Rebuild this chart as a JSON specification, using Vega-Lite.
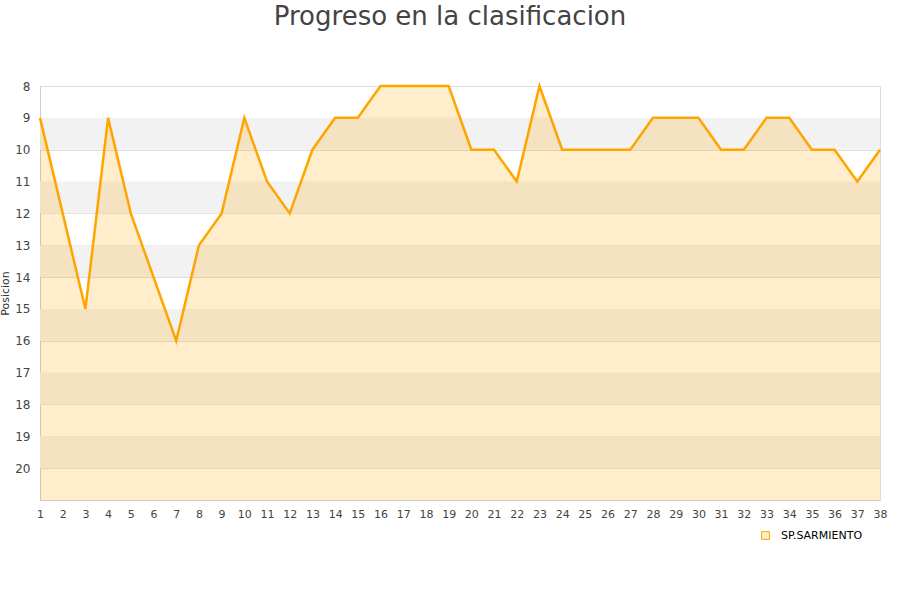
{
  "$schema": "https://vega.github.io/schema/vega-lite/v6.json",
  "autosize": "none",
  "width": 840,
  "height": 414,
  "padding": {"left": 40, "top": 86, "right": 20, "bottom": 100},
  "background": "white",
  "title": {"text": "Progreso en la clasificacion", "fontSize": 26, "fontWeight": "normal", "color": "#444444", "font": "DejaVu Sans", "anchor": "middle", "dx": -10, "offset": 50},
  "config": {
    "font": "DejaVu Sans",
    "view": {"stroke": "#dddddd"},
    "axis": {"labelColor": "#444444", "labelFontSize": 11, "domainColor": "#cccccc", "gridColor": "#dddddd", "ticks": false, "titleColor": "#333333", "titleFontWeight": "normal", "labelOverlap": false}
  },
  "datasets": {
    "pos": [
      {"jornada": 1, "posicion": 9}, {"jornada": 2, "posicion": 12}, {"jornada": 3, "posicion": 15},
      {"jornada": 4, "posicion": 9}, {"jornada": 5, "posicion": 12}, {"jornada": 6, "posicion": 14},
      {"jornada": 7, "posicion": 16}, {"jornada": 8, "posicion": 13}, {"jornada": 9, "posicion": 12},
      {"jornada": 10, "posicion": 9}, {"jornada": 11, "posicion": 11}, {"jornada": 12, "posicion": 12},
      {"jornada": 13, "posicion": 10}, {"jornada": 14, "posicion": 9}, {"jornada": 15, "posicion": 9},
      {"jornada": 16, "posicion": 8}, {"jornada": 17, "posicion": 8}, {"jornada": 18, "posicion": 8},
      {"jornada": 19, "posicion": 8}, {"jornada": 20, "posicion": 10}, {"jornada": 21, "posicion": 10},
      {"jornada": 22, "posicion": 11}, {"jornada": 23, "posicion": 8}, {"jornada": 24, "posicion": 10},
      {"jornada": 25, "posicion": 10}, {"jornada": 26, "posicion": 10}, {"jornada": 27, "posicion": 10},
      {"jornada": 28, "posicion": 9}, {"jornada": 29, "posicion": 9}, {"jornada": 30, "posicion": 9},
      {"jornada": 31, "posicion": 10}, {"jornada": 32, "posicion": 10}, {"jornada": 33, "posicion": 9},
      {"jornada": 34, "posicion": 9}, {"jornada": 35, "posicion": 10}, {"jornada": 36, "posicion": 10},
      {"jornada": 37, "posicion": 11}, {"jornada": 38, "posicion": 10}
    ],
    "bands": [
      {"posicion": 9, "hasta": 10}, {"posicion": 11, "hasta": 12}, {"posicion": 13, "hasta": 14},
      {"posicion": 15, "hasta": 16}, {"posicion": 17, "hasta": 18}, {"posicion": 19, "hasta": 20}
    ]
  },
  "encoding": {
    "x": {"field": "jornada", "type": "quantitative", "scale": {"domain": [1, 38], "nice": false, "zero": false},
          "axis": {"values": [1,2,3,4,5,6,7,8,9,10,11,12,13,14,15,16,17,18,19,20,21,22,23,24,25,26,27,28,29,30,31,32,33,34,35,36,37,38], "title": null, "grid": false, "labelPadding": 8, "labelFlush": false, "labelOverlap": false, "labelBound": false}},
    "y": {"field": "posicion", "type": "quantitative", "scale": {"domain": [8, 21], "reverse": true, "nice": false, "zero": false},
          "axis": {"values": [8,9,10,11,12,13,14,15,16,17,18,19,20], "title": "Posicion", "titleFontSize": 11, "labelFontSize": 12, "labelPadding": 10, "titlePadding": 4, "grid": true, "labelOverlap": false, "labelBound": false}}
  },
  "layer": [
    {
      "data": {"name": "bands"},
      "mark": {"type": "rect", "fill": "#f2f2f2"},
      "encoding": {
        "x": null,
        "y2": {"field": "hasta"}
      }
    },
    {
      "data": {"name": "pos"},
      "mark": {"type": "area", "opacity": 0.2, "color": "#FFA500"},
      "encoding": {
        "y2": {"datum": 21}
      }
    },
    {
      "data": {"name": "pos"},
      "mark": {"type": "line", "strokeWidth": 2.5},
      "encoding": {
        "color": {"datum": "SP.SARMIENTO", "type": "nominal", "scale": {"range": ["#FFA500"]},
                  "legend": {"title": null, "orient": "none", "legendX": 720, "legendY": 444, "symbolType": "square", "symbolSize": 60, "symbolStrokeWidth": 1, "symbolFillColor": "#FFEDCC", "labelOffset": 10, "labelFontSize": 11, "labelColor": "#000000", "labelFont": "DejaVu Sans"}}
      }
    }
  ]
}
